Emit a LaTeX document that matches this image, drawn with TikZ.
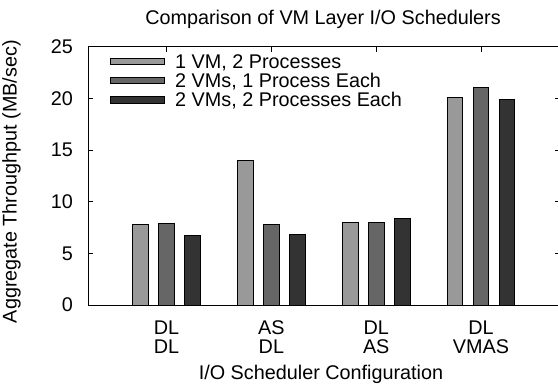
\documentclass[tikz,border=0pt]{standalone}
\usepackage{fontspec}
\setmainfont{Liberation Sans}
\definecolor{barA}{HTML}{999999}
\definecolor{barB}{HTML}{666666}
\definecolor{barC}{HTML}{333333}
\tikzset{
  lbl/.style={inner sep=0pt, font=\fontsize{19.8bp}{16bp}\selectfont},
  frameline/.style={draw=black, line width=1bp},
  tickline/.style={draw=black, line width=1bp},
  barbox/.style={draw=black, line width=0.9bp},
}
\begin{document}
\begin{tikzpicture}[x=1bp,y=1bp]
\useasboundingbox (0,0) rectangle (558,385);
\clip (0,0) rectangle (558,385);
\def\XL{88}\def\XR{559.6}\def\YB{80}\def\YT{338.3}
\def\U{10.332}
% title
\node[lbl, anchor=base] (title) at (323,361) {Comparison of VM Layer I/O Schedulers};
% y label
\node[lbl, anchor=base, rotate=90] (ylab) at (16.5,203.3) {Aggregate Throughput (MB/sec)};
% x label
\node[lbl, anchor=base] (xlab) at (321,6) {I/O Scheduler Configuration};
% y ticks and labels
\foreach \v in {0,5,10,15,20,25}{
  \pgfmathsetmacro{\yy}{\YB+\v*\U}
  \draw[tickline] (\XL,\yy) -- ++(5,0);
  \draw[tickline] (\XR,\yy) -- ++(-5,0);
  \node[lbl, anchor=east] (yt\v) at (73,\yy) {\v};
}
% x ticks
\foreach \i in {1,2,3,4}{
  \pgfmathsetmacro{\cx}{166.6+104.8*(\i-1)}
  \draw[tickline] (\cx,\YT) -- ++(0,-5);
  \draw[tickline] (\cx,\YB) -- ++(0,5);
}
% x tick labels
\node[lbl, anchor=base] (g1a) at (166.6,51) {DL};
\node[lbl, anchor=base] (g1b) at (166.6,32) {DL};
\node[lbl, anchor=base] (g2a) at (271.4,51) {AS};
\node[lbl, anchor=base] (g2b) at (271.4,32) {DL};
\node[lbl, anchor=base] (g3a) at (376.2,51) {DL};
\node[lbl, anchor=base] (g3b) at (376.2,32) {AS};
\node[lbl, anchor=base] (g4a) at (481.0,51) {DL};
\node[lbl, anchor=base] (g4b) at (481.0,32) {VMAS};
% bars
\foreach \i/\a/\b/\c in {1/7.81/7.94/6.78, 2/14.03/7.84/6.81, 3/8.03/8.03/8.36, 4/20.1/21.07/19.94}{
  \pgfmathsetmacro{\cx}{166.6+104.8*(\i-1)}
  \pgfmathsetmacro{\ha}{\YB+\a*\U}
  \pgfmathsetmacro{\hb}{\YB+\b*\U}
  \pgfmathsetmacro{\hc}{\YB+\c*\U}
  \draw[barbox, fill=barA] (\cx-33.8,\YB) rectangle (\cx-18.2,\ha);
  \draw[barbox, fill=barB] (\cx-7.8,\YB) rectangle (\cx+7.8,\hb);
  \draw[barbox, fill=barC] (\cx+18.2,\YB) rectangle (\cx+33.8,\hc);
}
% legend
\draw[barbox, fill=barA] (110.7,320.4) rectangle (164.3,327.0);
\draw[barbox, fill=barB] (110.7,301.1) rectangle (164.3,307.7);
\draw[barbox, fill=barC] (110.7,281.8) rectangle (164.3,288.4);
\node[lbl, anchor=base west] (leg1) at (175,316.7) {1 VM, 2 Processes};
\node[lbl, anchor=base west] (leg2) at (175,297.5) {2 VMs, 1 Process Each};
\node[lbl, anchor=base west] (leg3) at (175,278.3) {2 VMs, 2 Processes Each};
% frame
\draw[frameline] (\XL,\YB) rectangle (\XR,\YT);
\end{tikzpicture}
\end{document}
